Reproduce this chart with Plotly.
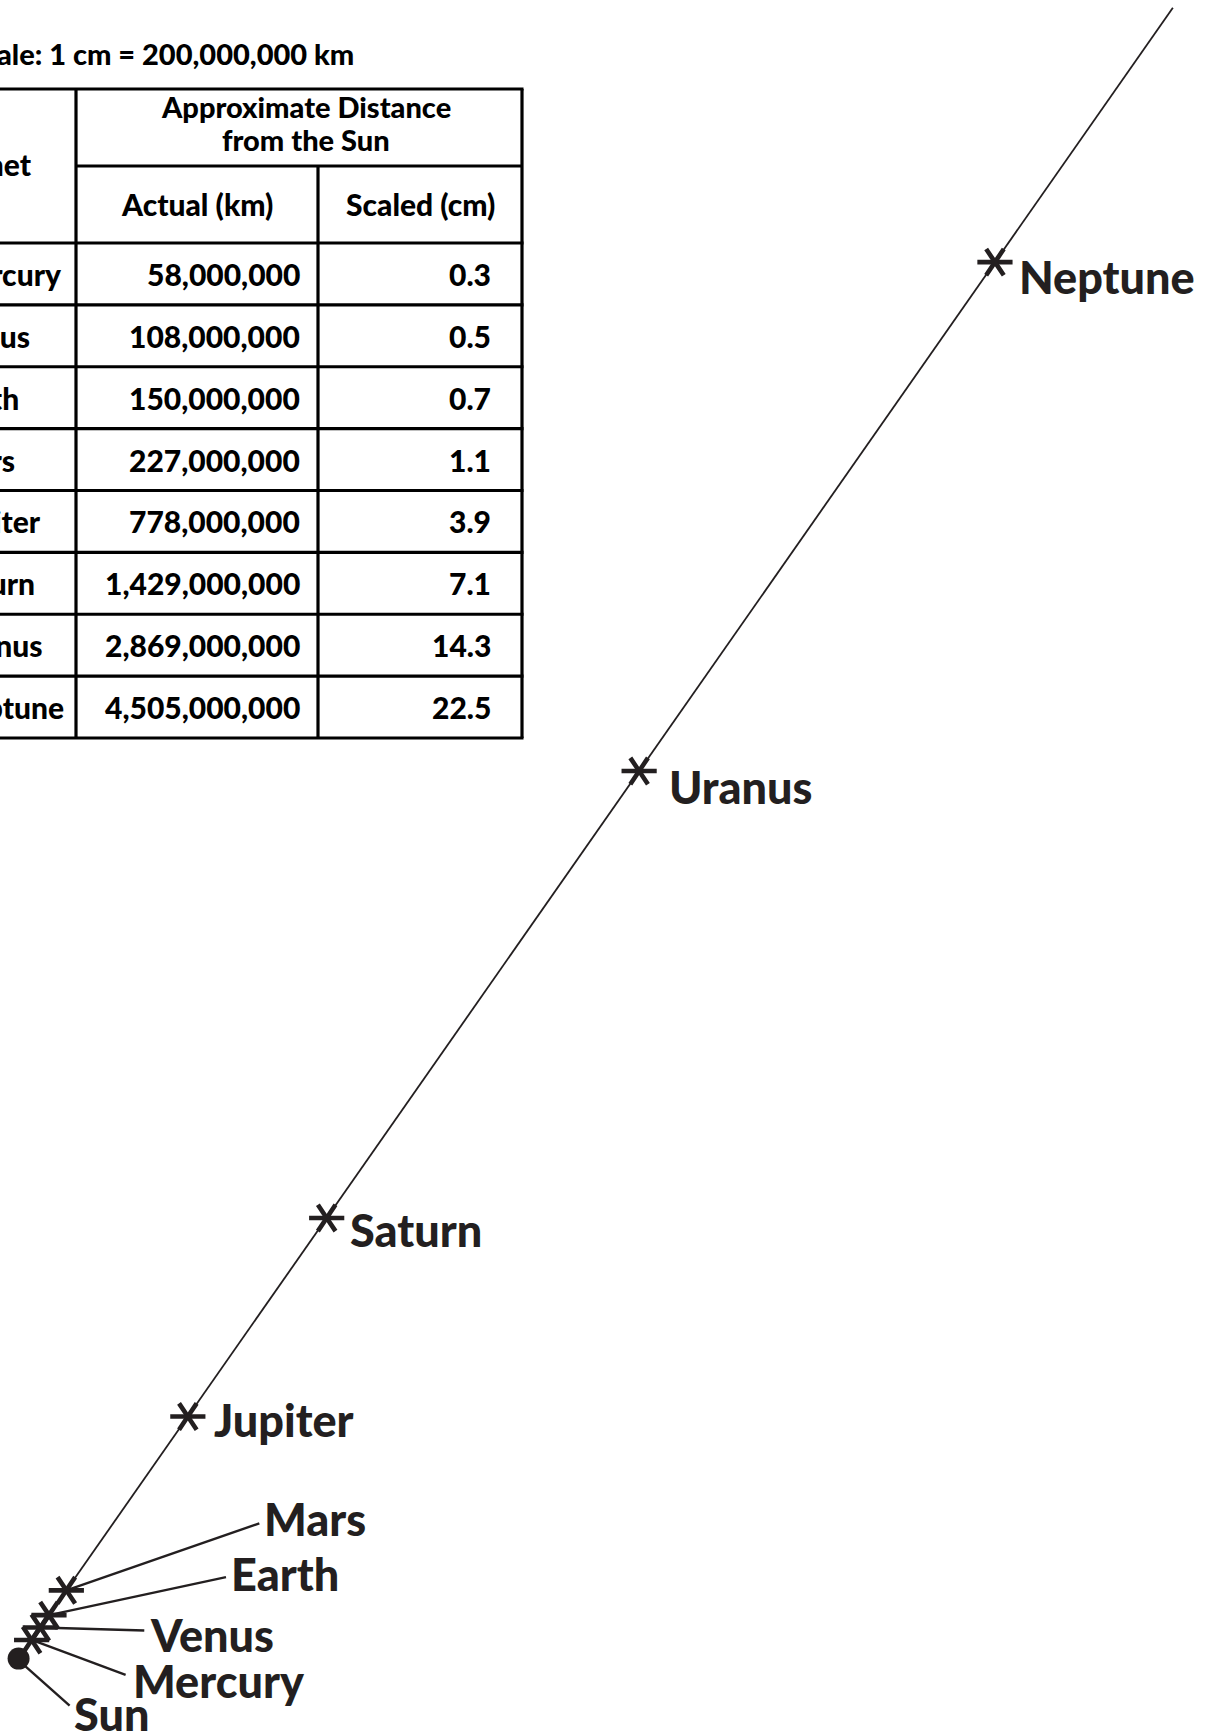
import math
import plotly.graph_objects as go

# ---------------- data ----------------
planets = ["Mercury", "Venus", "Earth", "Mars", "Jupiter", "Saturn", "Uranus", "Neptune"]
actual_km = [58000000, 108000000, 150000000, 227000000, 778000000,
             1429000000, 2869000000, 4505000000]
scaled_cm = [0.3, 0.5, 0.7, 1.1, 3.9, 7.1, 14.3, 22.5]
scale_text = "Scale: 1 cm = 200,000,000 km"
group_header = ["Approximate Distance", "from the Sun"]
col_headers = ["Planet", "Actual (km)", "Scaled (cm)"]
sun_label = "Sun"

# ---------------- layout / style ----------------
W, H = 1211, 1735
PX_PER_CM = 75.73          # drawing scale on screen
SUN_PX = (18.6, 1658.6)    # where the Sun sits on the page
ANGLE_DEG = 55.04          # direction of the scale line
LINE_END_CM = 26.6         # how far the guide line runs
INK = "#231f20"
FONT = "Lato"
WEIGHT = 900
LABEL_FS = 45

# label offsets (px) from each planet's mark: text left-middle, leader-line end (or None)
label_offsets = {
    "Mercury": ((99, 41), (94, 35)),
    "Venus":   ((108, 7), (104, 3)),
    "Earth":   ((180, -41), (177, -38)),
    "Mars":    ((196, -71), (193, -67)),
    "Jupiter": ((24, 3), None),
    "Saturn":  ((21, 12), None),
    "Uranus":  ((28, 16), None),
    "Neptune": ((22, 15), None),
}
sun_offsets = ((53, 55), (6, 7), (51, 47))  # text, leader start, leader end

ux, uy = math.cos(math.radians(ANGLE_DEG)), math.sin(math.radians(ANGLE_DEG))
px = lambda v: v / PX_PER_CM

xs = [d * ux for d in scaled_cm]
ys = [d * uy for d in scaled_cm]

fig = go.Figure()

# guide line
fig.add_trace(go.Scatter(x=[0, LINE_END_CM * ux], y=[0, LINE_END_CM * uy], mode="lines",
                         line=dict(color=INK, width=1.8), hoverinfo="skip"))

# leader lines
lx, ly = [], []
for name, x0, y0 in zip(planets, xs, ys):
    _, lead = label_offsets[name]
    if lead is None:
        continue
    lx += [x0, x0 + px(lead[0]), None]
    ly += [y0, y0 - px(lead[1]), None]
(_, s0, s1) = sun_offsets
lx += [px(s0[0]), px(s1[0]), None]
ly += [-px(s0[1]), -px(s1[1]), None]
fig.add_trace(go.Scatter(x=lx, y=ly, mode="lines", line=dict(color=INK, width=2.4),
                         hoverinfo="skip"))

# asterisk markers (6-armed)
for sym in ["y-up-open", "y-down-open"]:
    fig.add_trace(go.Scatter(x=xs, y=ys, mode="markers",
                             marker=dict(symbol=sym, size=22, angle=90, color=INK,
                                         line=dict(color=INK, width=4.6)),
                             hoverinfo="skip"))

# sun
fig.add_trace(go.Scatter(x=[0], y=[0], mode="markers",
                         marker=dict(symbol="circle", size=22, color=INK,
                                     line=dict(width=0)), hoverinfo="skip"))

# planet labels
for name, x0, y0 in zip(planets, xs, ys):
    (tx, ty), _ = label_offsets[name]
    fig.add_annotation(x=x0, y=y0, xref="x", yref="y", text=name, showarrow=False,
                       xanchor="left", yanchor="middle", xshift=tx, yshift=-ty,
                       font=dict(family=FONT, size=LABEL_FS, color=INK, weight=WEIGHT))
fig.add_annotation(x=0, y=0, xref="x", yref="y", text=sun_label, showarrow=False,
                   xanchor="left", yanchor="middle", xshift=sun_offsets[0][0],
                   yshift=-sun_offsets[0][1],
                   font=dict(family=FONT, size=LABEL_FS, color=INK, weight=WEIGHT))

# ---------------- table (page pixels -> paper) ----------------
def P(xp, yp):
    return xp / W, 1 - yp / H

X_L, X1, X2, X3 = -200, 76, 318, 522
Y_TOP, Y_MID, Y_HEAD, Y_BOT = 89, 166, 243, 738
ROW_H = (Y_BOT - Y_HEAD) / len(planets)
TW = 3.2

def hline(y, xa, xb):
    (a, b), (c, _) = P(xa, y), P(xb, y)
    fig.add_shape(type="line", xref="paper", yref="paper", x0=a, x1=c, y0=b, y1=b,
                  line=dict(color="black", width=TW))

def vline(x, ya, yb):
    (a, b), (_, d) = P(x, ya), P(x, yb)
    fig.add_shape(type="line", xref="paper", yref="paper", x0=a, x1=a, y0=b, y1=d,
                  line=dict(color="black", width=TW))

hline(Y_TOP, X_L, X3 + 1.5)
hline(Y_MID, X1, X3)
for k in range(len(planets) + 1):
    hline(Y_HEAD + k * ROW_H, X_L, X3 + 1.5)
vline(X1, Y_TOP, Y_BOT)
vline(X2, Y_MID, Y_BOT)
vline(X3, Y_TOP, Y_BOT)

TFS = 30
def ttext(xp, yp, text, anchor, size=TFS):
    x, y = P(xp, yp)
    fig.add_annotation(x=x, y=y, xref="paper", yref="paper", text=text, showarrow=False,
                       xanchor=anchor, yanchor="middle",
                       font=dict(family=FONT, size=size, color="black", weight=WEIGHT))

ttext(356, 54, scale_text, "right", 29)
ttext((X1 + X3) / 2 + 7, 107, group_header[0], "center", 29)
ttext((X1 + X3) / 2 + 7, 140, group_header[1], "center", 29)
ttext(34, (Y_TOP + Y_HEAD) / 2 - 2, col_headers[0], "right")
ttext((X1 + X2) / 2, (Y_MID + Y_HEAD) / 2, col_headers[1], "center")
ttext((X2 + X3) / 2, (Y_MID + Y_HEAD) / 2, col_headers[2], "center")
for i, (name, km, cm) in enumerate(zip(planets, actual_km, scaled_cm)):
    yc = Y_HEAD + (i + 0.5) * ROW_H
    ttext(-55, yc, name, "left")
    ttext(302, yc, f"{km:,}", "right")
    ttext(493, yc, f"{cm:.1f}", "right")

fig.update_layout(
    width=W, height=H, autosize=False,
    margin=dict(l=0, r=0, t=0, b=0),
    paper_bgcolor="white", plot_bgcolor="white",
    showlegend=False,
    xaxis=dict(range=[-SUN_PX[0] / PX_PER_CM, (W - SUN_PX[0]) / PX_PER_CM],
               visible=False, fixedrange=True),
    yaxis=dict(range=[-(H - SUN_PX[1]) / PX_PER_CM, SUN_PX[1] / PX_PER_CM],
               visible=False, fixedrange=True),
)

fig.write_html("out.html", config={"displayModeBar": False},
               post_script="document.body.style.margin='0';")
